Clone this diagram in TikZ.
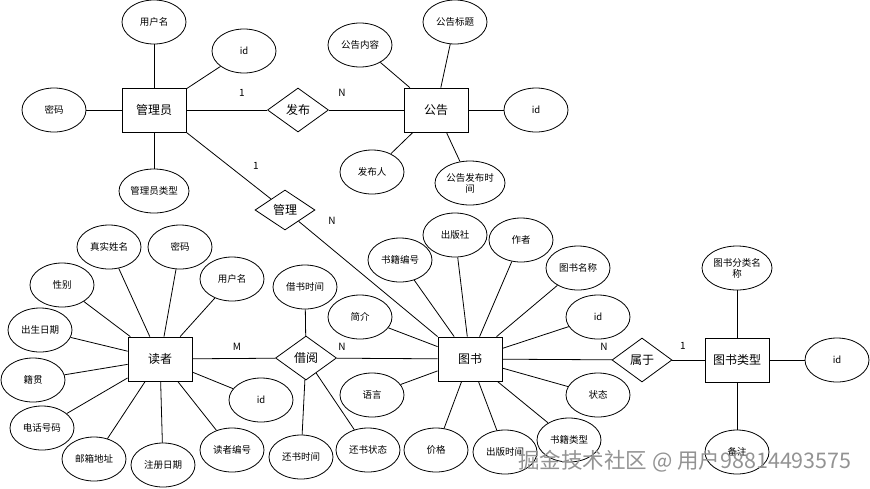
\documentclass[tikz,border=0pt]{standalone}
\usepackage{fontspec}
\setmainfont{Noto Sans CJK SC}
\usetikzlibrary{positioning, shapes.geometric}

\begin{document}
\begin{tikzpicture}[x=1pt, y=-1pt, line width=0.8pt,
    entity/.style={rectangle, draw, minimum width=64pt, minimum height=44pt, font=\fontsize{12}{12}\selectfont},
    attr/.style={ellipse, draw, minimum width=64pt, minimum height=44pt, inner sep=1pt, align=center, font=\fontsize{9.5}{11}\selectfont},
    rel/.style={diamond, draw, minimum width=61pt, minimum height=44pt, inner sep=1pt, font=\fontsize{12}{12}\selectfont},
    card/.style={font=\fontsize{10}{10}\selectfont}]
  \useasboundingbox (0,0) rectangle (870,488);

  % entities
  \node[entity] (adm) at (154,110) {管理员};
  \node[entity] (notice) at (436,110) {公告};
  \node[entity] (reader) at (160,359) {读者};
  \node[entity] (book) at (470,359) {图书};
  \node[entity] (cat) at (737,360) {图书类型};

  % relations
  \node[rel] (pub) at (298,110) {发布};
  \node[rel, minimum height=40pt, minimum width=60pt] (mng) at (285,210) {管理};
  \node[rel] (borrow) at (306,358) {借阅};
  \node[rel, minimum width=60pt] (belong) at (642,360) {属于};

  % admin attributes
  \node[attr] (admname) at (154,22) {用户名};
  \node[attr] (admid) at (244,51) {id};
  \node[attr] (admpwd) at (54,110) {密码};
  \node[attr] (admtype) at (154,191) {管理员类型};

  % notice attributes
  \node[attr] (ntitle) at (455,22) {公告标题};
  \node[attr] (ncontent) at (360,45) {公告内容};
  \node[attr] (nid) at (536,110) {id};
  \node[attr] (nman) at (372,172) {发布人};
  \node[attr] (ntime) at (470,183) {公告发布时\\间};

  % reader attributes
  \node[attr] (rname) at (109,247) {真实姓名};
  \node[attr] (rpwd) at (180,247) {密码};
  \node[attr] (ruser) at (232,279) {用户名};
  \node[attr] (rsex) at (62,285) {性别};
  \node[attr] (rbirth) at (40,330) {出生日期};
  \node[attr] (rhome) at (33,380) {籍贯};
  \node[attr] (rtel) at (42,428) {电话号码};
  \node[attr] (rmail) at (94,459) {邮箱地址};
  \node[attr] (rreg) at (163,465) {注册日期};
  \node[attr] (rno) at (232,450) {读者编号};
  \node[attr] (rid) at (261,400) {id};

  % borrow attributes
  \node[attr] (btime) at (305,287) {借书时间};
  \node[attr] (rtime) at (301,457) {还书时间};
  \node[attr] (rstate) at (368,450) {还书状态};

  % book attributes
  \node[attr] (bno) at (400,260) {书籍编号};
  \node[attr] (bpress) at (455,235) {出版社};
  \node[attr] (bauthor) at (521,240) {作者};
  \node[attr] (bname) at (578,268) {图书名称};
  \node[attr] (bid) at (598,317) {id};
  \node[attr] (bintro) at (360,317) {简介};
  \node[attr] (blang) at (372,395) {语言};
  \node[attr] (bstate) at (598,395) {状态};
  \node[attr] (btype) at (569,440) {书籍类型};
  \node[attr] (bdate) at (505,452) {出版时间};
  \node[attr] (bprice) at (436,450) {价格};

  % category attributes
  \node[attr] (cname) at (737,268) {图书分类名\\称};
  \node[attr] (cid) at (837,360) {id};
  \node[attr] (cnote) at (737,452) {备注};

  % attribute lines
  \foreach \a in {admname, admid, admpwd, admtype}
    \draw (adm) -- (\a);
  \foreach \a in {ntitle, ncontent, nid, nman, ntime}
    \draw (notice) -- (\a);
  \foreach \a in {rname, rpwd, ruser, rsex, rbirth, rhome, rtel, rmail, rreg, rno, rid}
    \draw (reader) -- (\a);
  \foreach \a in {btime, rtime, rstate}
    \draw (borrow) -- (\a);
  \foreach \a in {bno, bpress, bauthor, bname, bid, bintro, blang, bstate, btype, bdate, bprice}
    \draw (book) -- (\a);
  \foreach \a in {cname, cid, cnote}
    \draw (cat) -- (\a);

  % relation lines
  \draw (adm) -- (pub);
  \draw (pub) -- (notice);
  \draw (adm.south east) -- (mng);
  \draw (mng) -- (book.north west);
  \draw (reader) -- (borrow);
  \draw (borrow) -- (book);
  \draw (book) -- (belong);
  \draw (belong) -- (cat);

  % cardinalities
  \node[card] (c1) at (242,93) {1};
  \node[card] (c2) at (342,93) {N};
  \node[card] (c3) at (256,166) {1};
  \node[card] (c4) at (332,221) {N};
  \node[card] (c5) at (237,347) {M};
  \node[card] (c6) at (342,347) {N};
  \node[card] (c7) at (604,347) {N};
  \node[card] (c8) at (683,346) {1};

  % watermark
  \node[text=gray!85, font=\fontsize{21.5}{22}\selectfont] (mark) at (685,461) {掘金技术社区 @ 用户98814493575};
\end{tikzpicture}
\end{document}
